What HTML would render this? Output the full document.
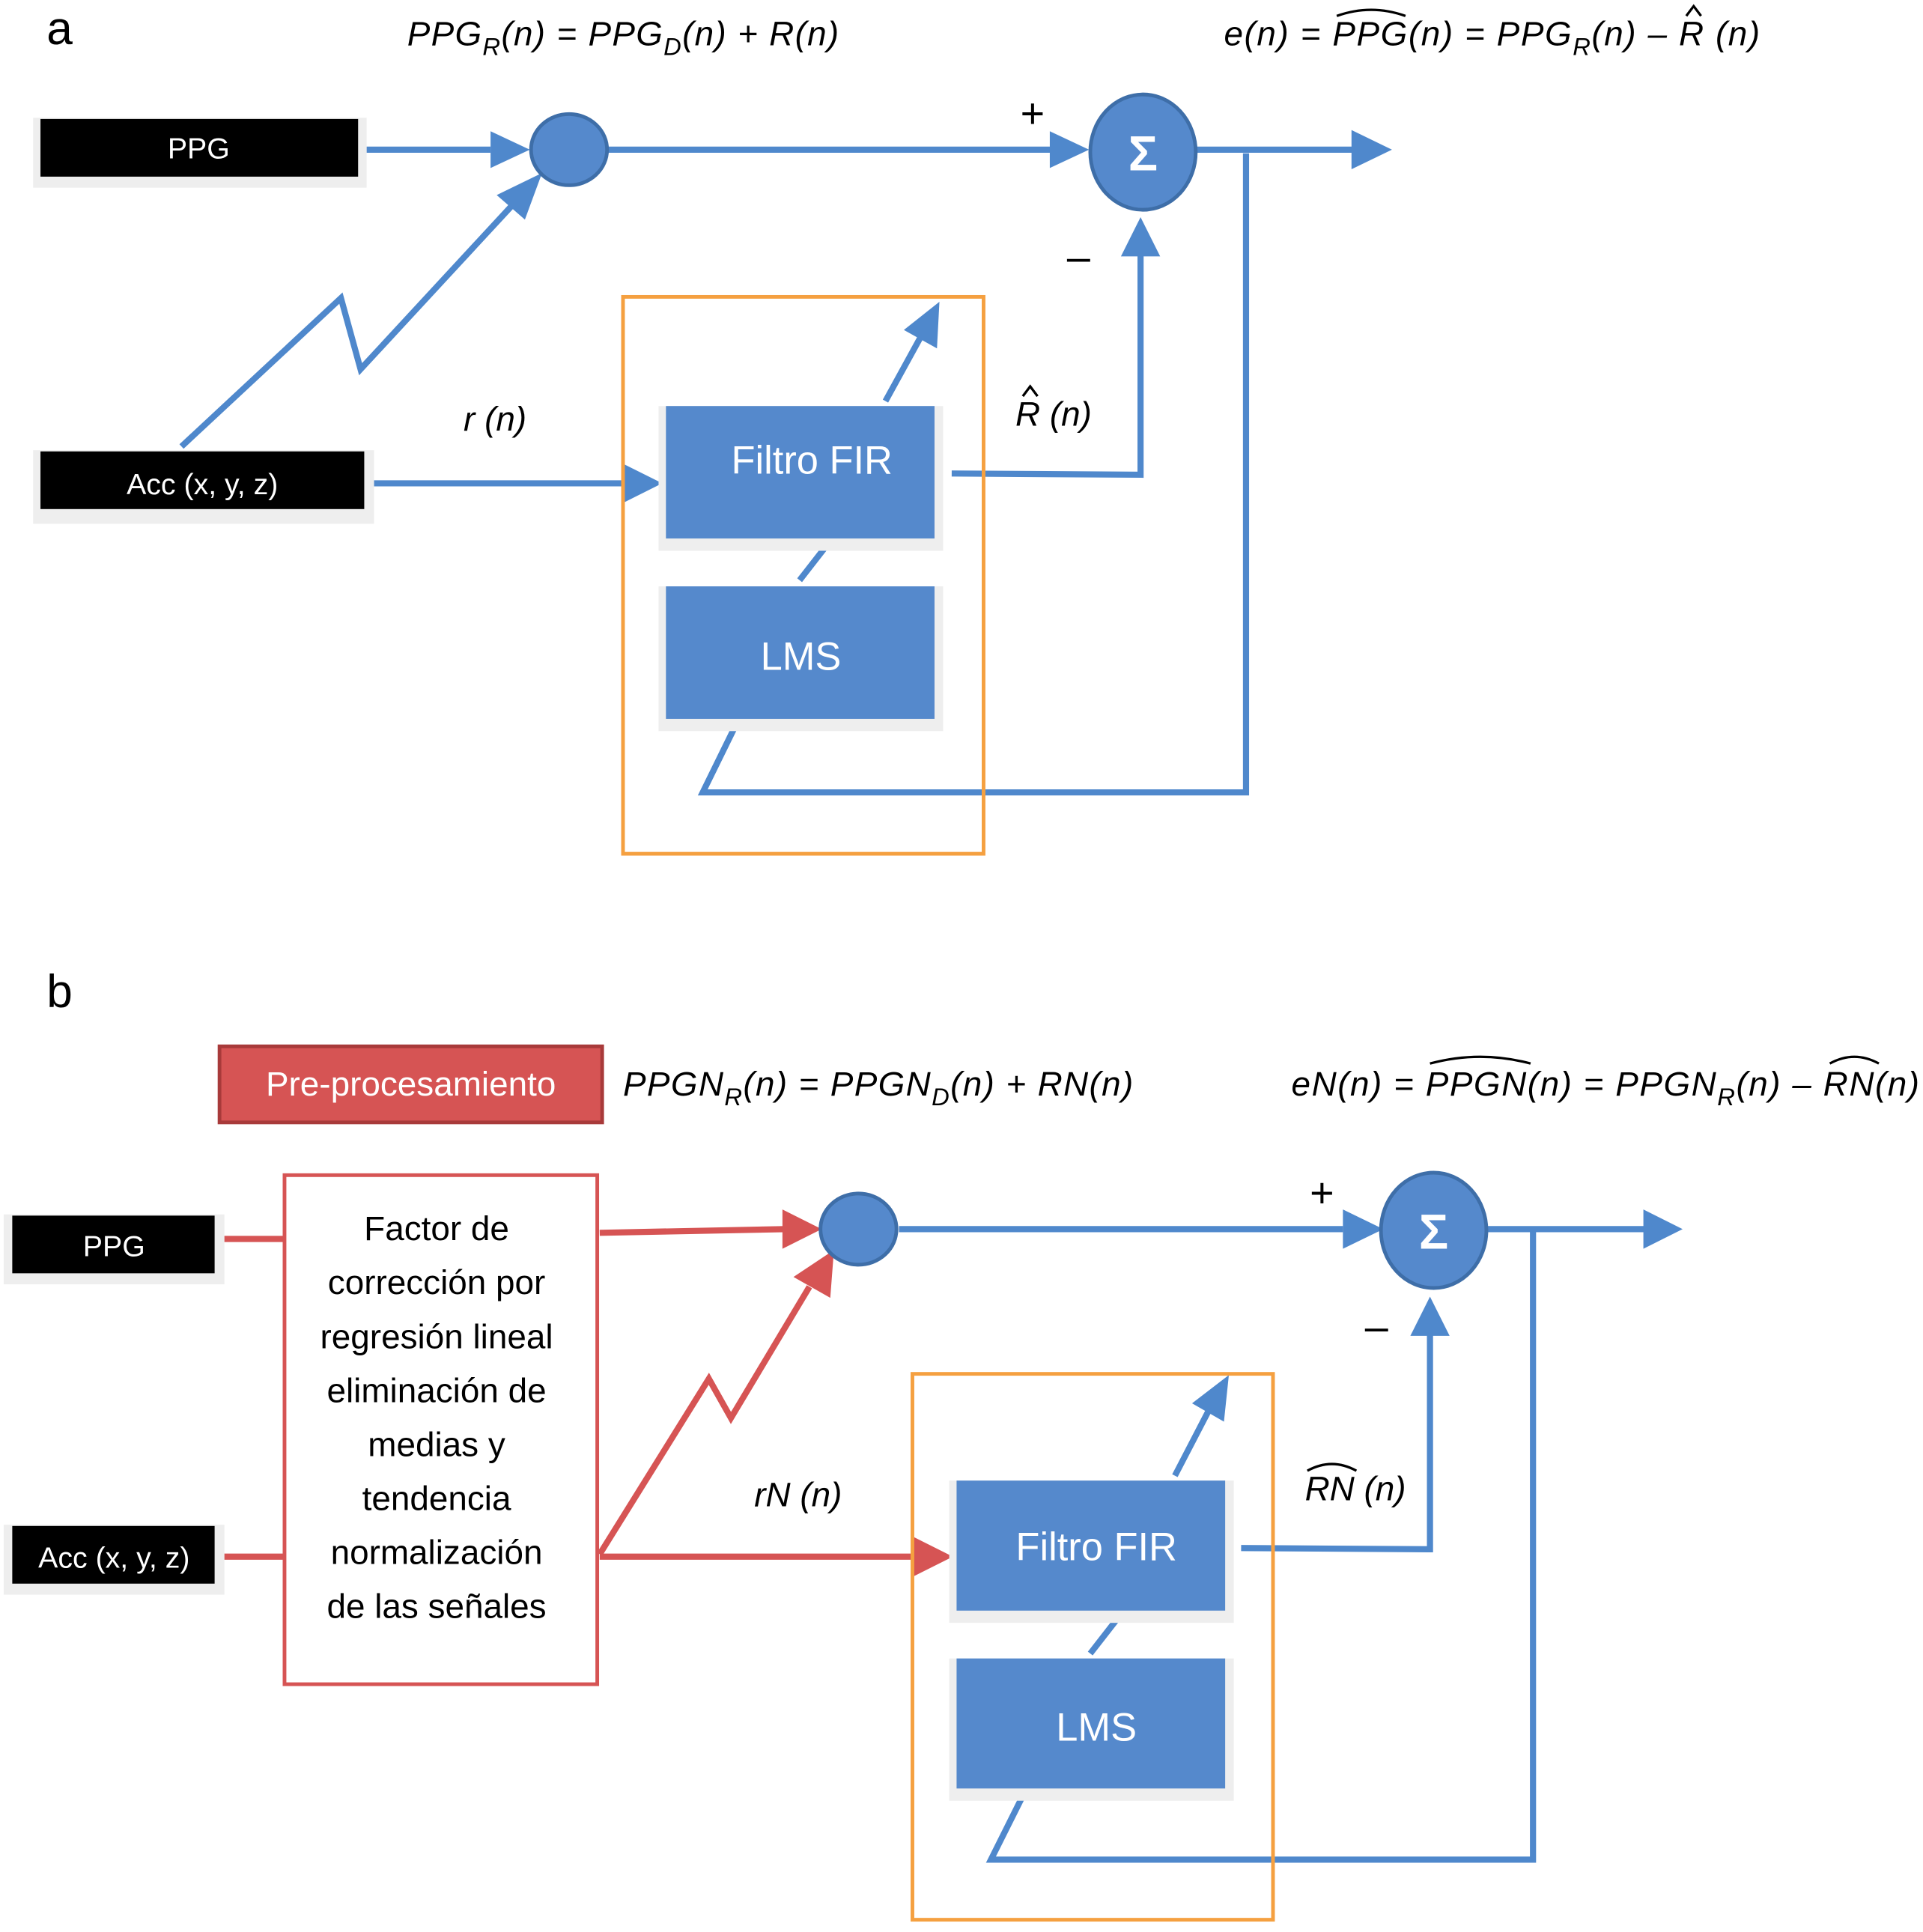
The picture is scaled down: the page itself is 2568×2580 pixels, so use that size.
<!DOCTYPE html>
<html><head><meta charset="utf-8"><style>
html,body{margin:0;padding:0;background:#fff}
svg{display:block}
text{font-family:"Liberation Sans",sans-serif}
</style></head><body>
<svg width="2568" height="2580" viewBox="0 0 1568 1575" preserveAspectRatio="none" xmlns="http://www.w3.org/2000/svg">
<g fill="none" stroke="#4f88cc" stroke-width="5">
<path d="M297,122 L400,122"/>
<polygon points="400,107 432,122 400,137" fill="#4f88cc" stroke="none"/>
<path d="M496,122 L858,122"/><polygon points="856,107 888,122 856,137" fill="#4f88cc" stroke="none"/>
<path d="M975,122 L1105,122"/><polygon points="1102,106 1135,122 1102,138" fill="#4f88cc" stroke="none"/>
<path d="M148,364 L278,243 L294,301 L418,167"/><polygon points="405,159 442,141 428,179" fill="#4f88cc" stroke="none"/>
<path d="M305,394 L510,394"/><polygon points="508,378 540,394 508,410" fill="#4f88cc" stroke="none"/>
<path d="M776,386 L930,387 L930,206"/><polygon points="914,209 930,177 946,209" fill="#4f88cc" stroke="none"/>
<path d="M722,327 L750,276"/><polygon points="737,269 766,246 764,284" fill="#4f88cc" stroke="none"/>
<path d="M652,473 L673,446"/>
<path d="M599,593 L573,646 L1016,646 L1016,125"/>
<path d="M733,1002 L1095,1002"/><polygon points="1095,986 1128,1002 1095,1018" fill="#4f88cc" stroke="none"/>
<path d="M1212,1002 L1342,1002"/><polygon points="1340,986 1372,1002 1340,1018" fill="#4f88cc" stroke="none"/>
<path d="M1012,1262 L1166,1263 L1166,1086"/><polygon points="1150,1089 1166,1057 1182,1089" fill="#4f88cc" stroke="none"/>
<path d="M958,1203 L985,1151"/><polygon points="972,1144 1002,1121 998,1159" fill="#4f88cc" stroke="none"/>
<path d="M889,1348 L910,1321"/>
<path d="M833,1466 L808,1516 L1250,1516 L1250,1004"/>
</g>
<g fill="none" stroke="#d65454" stroke-width="5">
<path d="M178,1010 L232,1010"/><path d="M178,1269 L232,1269"/>
<path d="M489,1005 L640,1002"/><polygon points="638,986 670,1002 638,1018" fill="#d65454" stroke="none"/>
<path d="M489,1267 L578,1124 L596,1156 L660,1049"/><polygon points="647,1041 680,1019 677,1058" fill="#d65454" stroke="none"/>
<path d="M489,1269 L745,1269"/><polygon points="743,1252 777,1269 743,1286" fill="#d65454" stroke="none"/>
</g>
<g fill="#eeeeee">
<rect x="27" y="96" width="272" height="57"/>
<rect x="27" y="367" width="278" height="60"/>
<rect x="3" y="990" width="180" height="57"/>
<rect x="3" y="1243" width="180" height="57"/>
<rect x="537" y="331" width="232" height="118"/>
<rect x="537" y="478" width="232" height="118"/>
<rect x="774" y="1207" width="232" height="116"/>
<rect x="774" y="1352" width="232" height="116"/>
</g>
<rect x="33" y="97" width="259" height="47" fill="#000"/>
<rect x="33" y="368" width="264" height="47" fill="#000"/>
<rect x="10" y="991" width="165" height="47" fill="#000"/>
<rect x="10" y="1244" width="165" height="47" fill="#000"/>
<rect x="543" y="331" width="219" height="108" fill="#5589cc"/>
<rect x="543" y="478" width="219" height="108" fill="#5589cc"/>
<rect x="780" y="1207" width="219" height="106" fill="#5589cc"/>
<rect x="780" y="1352" width="219" height="106" fill="#5589cc"/>
<rect x="508" y="242" width="294" height="454" fill="none" stroke="#f5a040" stroke-width="3"/>
<rect x="744" y="1120" width="294" height="445" fill="none" stroke="#f5a040" stroke-width="3"/>
<rect x="232" y="958" width="255" height="415" fill="#fff" stroke="#d65454" stroke-width="3"/>
<rect x="179" y="853" width="312" height="62" fill="#d65454" stroke="#a83a3a" stroke-width="3"/>
<g fill="#5589cc" stroke="#3e6ea8" stroke-width="3">
<ellipse cx="464" cy="122" rx="31" ry="29"/>
<ellipse cx="932" cy="124" rx="43" ry="47"/>
<ellipse cx="700" cy="1002" rx="31" ry="29"/>
<ellipse cx="1169" cy="1003" rx="43" ry="47"/>
</g>
<g font-size="40" font-weight="bold" fill="#fff" text-anchor="middle">
<text x="932" y="139">Σ</text><text x="1169" y="1018">Σ</text>
</g>
<g fill="#fff" font-size="24" text-anchor="middle">
<text x="162" y="129">PPG</text><text x="165" y="403">Acc (x, y, z)</text>
<text x="93" y="1024">PPG</text><text x="93" y="1278">Acc (x, y, z)</text>
<g font-size="32"><text x="662" y="386">Filtro FIR</text><text x="653" y="546">LMS</text>
<text x="894" y="1272">Filtro FIR</text><text x="894" y="1419">LMS</text></g>
<text x="335" y="893" font-size="28">Pre-procesamiento</text>
</g>
<g fill="#000" font-size="28" text-anchor="middle">
<text x="356" y="1011">Factor de</text><text x="356" y="1055">corrección por</text>
<text x="356" y="1099">regresión lineal</text><text x="356" y="1143">eliminación de</text>
<text x="356" y="1187">medias y</text><text x="356" y="1231">tendencia</text>
<text x="356" y="1275">normalización</text><text x="356" y="1319">de las señales</text>
</g>
<g fill="#000" font-size="38"><text x="38" y="36">a</text><text x="38" y="821">b</text>
<text x="832" y="104" font-size="34">+</text><text x="870" y="221" font-size="34">–</text>
<text x="1068" y="984" font-size="34">+</text><text x="1113" y="1093" font-size="34">–</text></g>
<g fill="#000" font-size="28" font-style="italic">
<text x="332" y="37" textLength="352" lengthAdjust="spacing">PPG<tspan font-size="20" dy="8">R</tspan><tspan dy="-8">(n) = PPG</tspan><tspan font-size="20" dy="8">D</tspan><tspan dy="-8">(n) + R(n)</tspan></text>
<text x="998" y="37" textLength="437" lengthAdjust="spacing">e(n) = PPG(n) = PPG<tspan font-size="20" dy="8">R</tspan><tspan dy="-8">(n) – R (n)</tspan></text>
<text x="378" y="351">r (n)</text><text x="828" y="347">R (n)</text>
<text x="508" y="893" textLength="416" lengthAdjust="spacing">PPGN<tspan font-size="20" dy="8">R</tspan><tspan dy="-8">(n) = PPGN</tspan><tspan font-size="20" dy="8">D</tspan><tspan dy="-8">(n) + RN(n)</tspan></text>
<text x="1053" y="893" textLength="512" lengthAdjust="spacing">eN(n) = PPGN(n) = PPGN<tspan font-size="20" dy="8">R</tspan><tspan dy="-8">(n) – RN(n)</tspan></text>
<text x="615" y="1228">rN (n)</text><text x="1064" y="1223">RN (n)</text>
</g>
<g fill="none" stroke="#000" stroke-width="2">
<path d="M1090,13 Q1118,3 1146,13"/><path d="M1375,13 L1381,5 L1387,13"/><path d="M834,323 L840,315 L846,323"/>
<path d="M1166,867 Q1207,856 1248,867"/><path d="M1492,867 Q1512,856 1532,867"/><path d="M1066,1199 Q1086,1188 1106,1199"/>
</g>
</svg>
</body></html>
